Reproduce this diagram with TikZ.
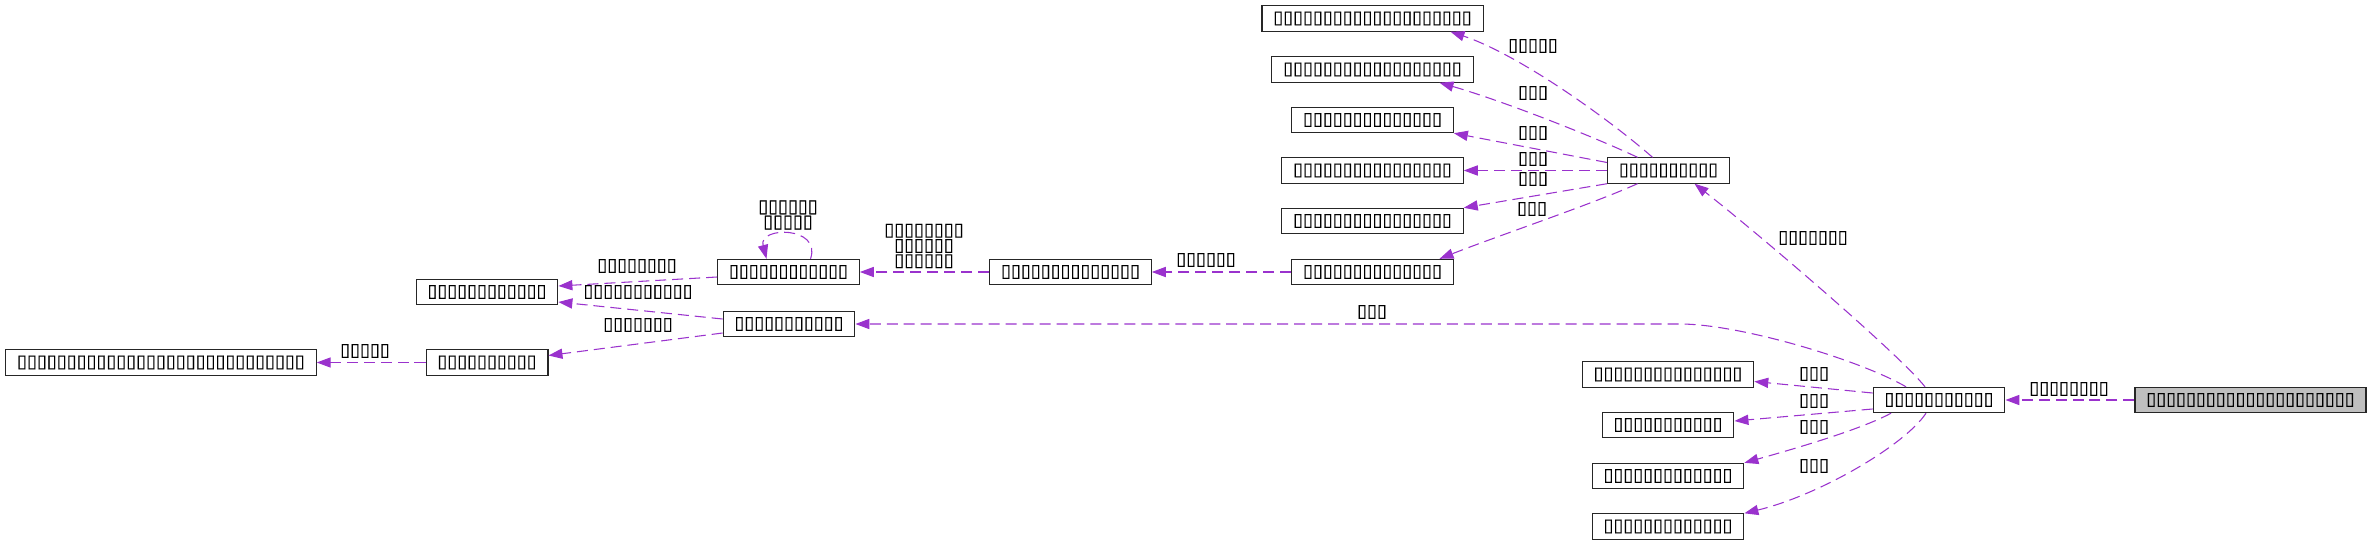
\documentclass[tikz,border=0pt]{standalone}
\usepackage{fontspec}
\newfontfamily\tofufont[FakeBold=0.4]{DejaVu Sans}
\usetikzlibrary{arrows.meta,calc}
\definecolor{usecol}{HTML}{9A32CD}
\tikzset{
  cls/.style={draw=black!85, line width=0.85pt, fill=white, minimum height=0.67cm,
    inner xsep=0.3cm, inner ysep=0pt, font=\tofufont\fontsize{13.6}{13.6}\selectfont},
  rootcls/.style={cls, fill=black!25},
  usage/.style={draw=usecol, line width=0.8pt, dash pattern=on 8.3pt off 4.5pt,
    -{Triangle[length=0.37cm,width=0.27cm]}},
  lbl/.style={inner sep=0pt, align=center, font=\tofufont\fontsize{13.6}{11.5}\selectfont}
}
\begin{document}
\begin{tikzpicture}[x=0.0265cm,y=-0.0265cm]
  \useasboundingbox (0,0) rectangle (2372,545);
  % classes
  \node[rootcls] (root) at (2250.5,400) {▯▯▯▯▯▯▯▯▯▯▯▯▯▯▯▯▯▯▯▯▯};
  \node[cls] (hub) at (1939,400) {▯▯▯▯▯▯▯▯▯▯▯};
  \node[cls] (mgr) at (1668.5,170.5) {▯▯▯▯▯▯▯▯▯▯};
  \node[cls] (dlg) at (1668,374.5) {▯▯▯▯▯▯▯▯▯▯▯▯▯▯▯};
  \node[cls] (tmr) at (1668,425) {▯▯▯▯▯▯▯▯▯▯▯};
  \node[cls] (cfg) at (1668,476) {▯▯▯▯▯▯▯▯▯▯▯▯▯};
  \node[cls] (log) at (1668,526.5) {▯▯▯▯▯▯▯▯▯▯▯▯▯};
  \node[cls] (opt) at (1372.5,18.5) {▯▯▯▯▯▯▯▯▯▯▯▯▯▯▯▯▯▯▯▯};
  \node[cls] (ctx) at (1372.5,69.5) {▯▯▯▯▯▯▯▯▯▯▯▯▯▯▯▯▯▯};
  \node[cls] (buf) at (1372.5,120) {▯▯▯▯▯▯▯▯▯▯▯▯▯▯};
  \node[cls] (pool) at (1372.5,170.5) {▯▯▯▯▯▯▯▯▯▯▯▯▯▯▯▯};
  \node[cls] (srv) at (1372.5,221) {▯▯▯▯▯▯▯▯▯▯▯▯▯▯▯▯};
  \node[cls] (conn) at (1372.5,272) {▯▯▯▯▯▯▯▯▯▯▯▯▯▯};
  \node[cls] (sess) at (1070.5,272) {▯▯▯▯▯▯▯▯▯▯▯▯▯▯};
  \node[cls] (tree) at (788.5,272) {▯▯▯▯▯▯▯▯▯▯▯▯};
  \node[cls] (item) at (789,324) {▯▯▯▯▯▯▯▯▯▯▯};
  \node[cls] (key) at (487,292) {▯▯▯▯▯▯▯▯▯▯▯▯};
  \node[cls] (val) at (487,362.5) {▯▯▯▯▯▯▯▯▯▯};
  \node[cls] (alloc) at (161,362.5) {▯▯▯▯▯▯▯▯▯▯▯▯▯▯▯▯▯▯▯▯▯▯▯▯▯▯▯▯▯};
  % usage edges
  \draw[usage] (root.west) -- (hub.east);
  \draw[usage] ($(hub.north)+(-14,0)$) .. controls (1900,355) and (1760,235) .. ($(mgr.south)+(26,0)$);
  \draw[usage] ($(hub.west)+(0,-7)$) -- ($(dlg.east)+(0,7)$);
  \draw[usage] ($(hub.west)+(0,9)$) -- ($(tmr.east)+(0,-4)$);
  \draw[usage] ($(hub.south)+(-48,0)$) .. controls (1860,430) and (1790,450) .. (cfg.north east);
  \draw[usage] ($(hub.south)+(-13,0)$) .. controls (1905,445) and (1820,495) .. (log.north east);
  \draw[usage] ($(hub.north)+(-33,0)$) .. controls (1860,360) and (1740,324) .. (1680,324) -- (item.east);
  \draw[usage] ($(mgr.north)+(-16,0)$) .. controls (1610,120) and (1520,55) .. ($(opt.south)+(78,0)$);
  \draw[usage] ($(mgr.north)+(-31,0)$) .. controls (1590,135) and (1500,100) .. ($(ctx.south)+(67,0)$);
  \draw[usage] ($(mgr.west)+(0,-8)$) -- (buf.south east);
  \draw[usage] (mgr.west) -- (pool.east);
  \draw[usage] (mgr.south west) -- (srv.north east);
  \draw[usage] ($(mgr.south)+(-31,0)$) .. controls (1590,205) and (1500,235) .. ($(conn.north)+(67,0)$);
  \draw[usage] (conn.west) -- (sess.east);
  \draw[usage] (sess.west) -- (tree.east);
  \draw[usage] ($(tree.north)+(22,0)$) .. controls (822,226) and (758,226) .. ($(tree.north)+(-22,0)$);
  \draw[usage] ($(tree.west)+(0,5)$) -- ($(key.east)+(0,-6)$);
  \draw[usage] ($(item.west)+(0,-5)$) -- ($(key.east)+(0,10)$);
  \draw[usage] ($(item.west)+(0,9)$) -- ($(val.east)+(0,-7)$);
  \draw[usage] (val.west) -- (alloc.east);
  % edge labels
  \node[lbl] (l-opt) at (1533,46) {▯▯▯▯▯};
  \node[lbl] (l-ctx) at (1533,93) {▯▯▯};
  \node[lbl] (l-buf) at (1533,133) {▯▯▯};
  \node[lbl] (l-pool) at (1533,159) {▯▯▯};
  \node[lbl] (l-srv) at (1533,179) {▯▯▯};
  \node[lbl] (l-conn) at (1532,209) {▯▯▯};
  \node[lbl] (l-mgr) at (1813,238) {▯▯▯▯▯▯▯};
  \node[lbl] (l-hub) at (2069,389) {▯▯▯▯▯▯▯▯};
  \node[lbl] (l-dlg) at (1814,374) {▯▯▯};
  \node[lbl] (l-tmr) at (1814,401) {▯▯▯};
  \node[lbl] (l-cfg) at (1814,427) {▯▯▯};
  \node[lbl] (l-log) at (1814,466) {▯▯▯};
  \node[lbl] (l-item) at (1372,312) {▯▯▯};
  \node[lbl] (l-sess) at (1206,260) {▯▯▯▯▯▯};
  \node[lbl] (l-tree) at (924,246) {▯▯▯▯▯▯▯▯\\▯▯▯▯▯▯\\▯▯▯▯▯▯};
  \node[lbl] (l-self) at (788,215) {▯▯▯▯▯▯\\▯▯▯▯▯};
  \node[lbl] (l-key1) at (637,266) {▯▯▯▯▯▯▯▯};
  \node[lbl] (l-key2) at (638,292) {▯▯▯▯▯▯▯▯▯▯▯};
  \node[lbl] (l-val) at (638,325) {▯▯▯▯▯▯▯};
  \node[lbl] (l-alloc) at (365,351) {▯▯▯▯▯};
\end{tikzpicture}
\end{document}
